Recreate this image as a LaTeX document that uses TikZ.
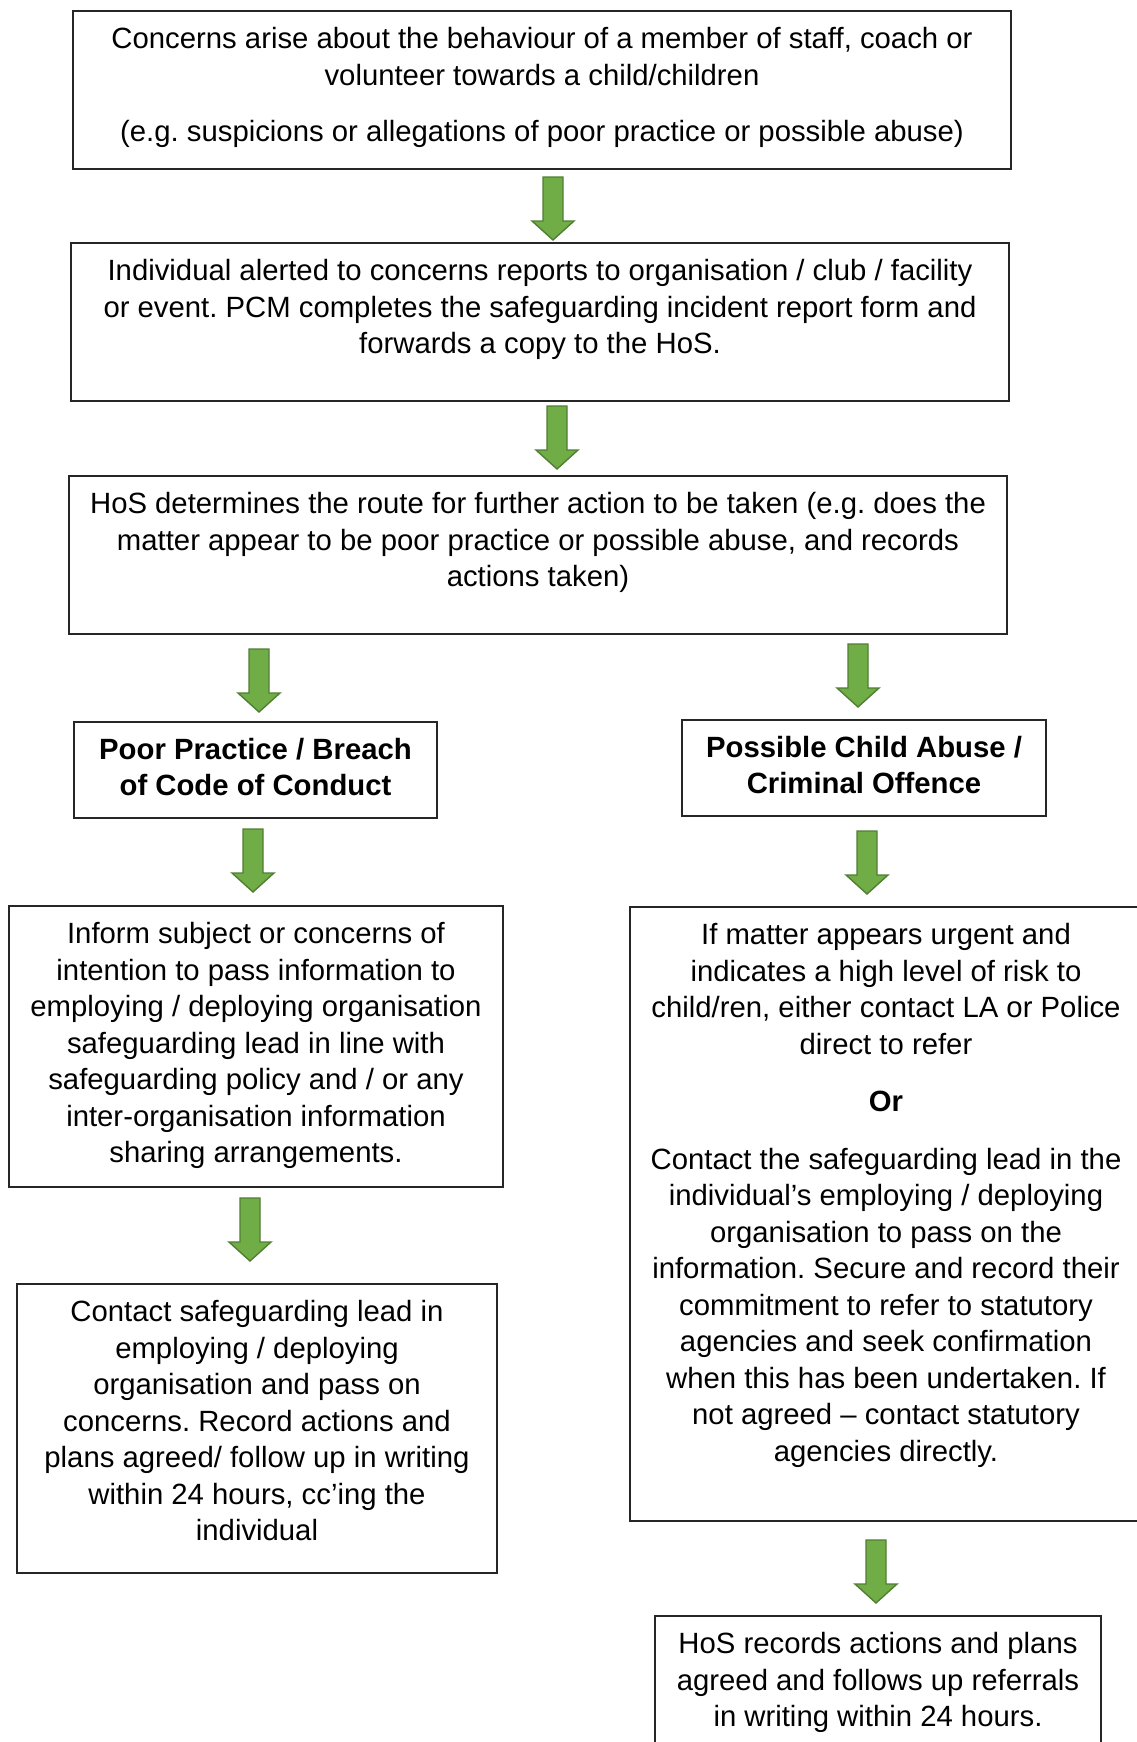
\documentclass[tikz,border=0pt]{standalone}
\usepackage{fontspec}
\setmainfont{Liberation Sans}
\frenchspacing
\definecolor{gfill}{HTML}{70AD47}
\definecolor{gline}{HTML}{507E32}
\tikzset{
  box/.style={draw=black!85, line width=1.3pt, inner sep=0pt, outer sep=0pt, rectangle},
  txt/.style={anchor=north, inner sep=0pt, align=center, font=\fontsize{29.3}{36.5}\selectfont, yshift=1.5pt},
  btxt/.style={txt, font=\fontsize{29.3}{35.6}\selectfont\bfseries},
  garrow/.pic={\draw[fill=gfill, draw=gline, line width=1.4pt, line join=miter]
    (-10,0) -- (10,0) -- (10,44) -- (21,44) -- (0,63) -- (-21,44) -- (-10,44) -- cycle;}
}
\begin{document}
\begin{tikzpicture}[x=1pt,y=-1pt]
\useasboundingbox (0,0) rectangle (1137,1742);
\clip (0,0) rectangle (1137,1742);

% boxes
\node[box, minimum width=938pt, minimum height=158pt] (b1) at (542,90) {};
\node[box, minimum width=938pt, minimum height=158pt] (b2) at (540,322) {};
\node[box, minimum width=938pt, minimum height=158pt] (b3) at (538,555) {};
\node[box, minimum width=363pt, minimum height=96pt] (poor) at (255.5,770) {};
\node[box, minimum width=364pt, minimum height=96pt] (poss) at (864,768) {};
\node[box, minimum width=494pt, minimum height=281pt] (inform) at (256,1046.5) {};
\node[box, minimum width=512pt, minimum height=614pt] (urgent) at (886,1214) {};
\node[box, minimum width=480pt, minimum height=289pt] (contact) at (257,1428.5) {};
\node[box, minimum width=446pt, minimum height=154pt] (hos) at (878,1693) {};

% texts
\node[txt] (b1t) at (542,28.6) {Concerns arise about the behaviour of a member of staff, coach or\\
volunteer towards a child/children\\[20pt]
(e.g. suspicions or allegations of poor practice or possible abuse)};
\node[txt] (b2t) at (540,260.6) {Individual alerted to concerns reports to organisation / club / facility\\
or event. PCM completes the safeguarding incident report form and\\
forwards a copy to the HoS.};
\node[txt] (b3t) at (538,493.6) {HoS determines the route for further action to be taken (e.g. does the\\
matter appear to be poor practice or possible abuse, and records\\
actions taken)};
\node[btxt] (poort) at (255.5,739.6) {Poor Practice / Breach\\of Code of Conduct};
\node[btxt] (posst) at (864,737.6) {Possible Child Abuse /\\Criminal Offence};
\node[txt] (informt) at (256,923.6) {Inform subject or concerns of\\
intention to pass information to\\
employing / deploying organisation\\
safeguarding lead in line with\\
safeguarding policy and / or any\\
inter-organisation information\\
sharing arrangements.};
\node[txt] (urgentt) at (886,924.6) {If matter appears urgent and\\
indicates a high level of risk to\\
child/ren, either contact LA or Police\\
direct to refer\\[21pt]
\textbf{Or}\\[21pt]
Contact the safeguarding lead in the\\
individual’s employing / deploying\\
organisation to pass on the\\
information. Secure and record their\\
commitment to refer to statutory\\
agencies and seek confirmation\\
when this has been undertaken. If\\
not agreed – contact statutory\\
agencies directly.};
\node[txt] (contactt) at (257,1301.6) {Contact safeguarding lead in\\
employing / deploying\\
organisation and pass on\\
concerns. Record actions and\\
plans agreed/ follow up in writing\\
within 24 hours, cc’ing the\\
individual};
\node[txt] (host) at (878,1633.6) {HoS records actions and plans\\
agreed and follows up referrals\\
in writing within 24 hours.};

% block arrows
\pic at (553,177) {garrow};
\pic at (557,406) {garrow};
\pic at (259,649) {garrow};
\pic at (858,644) {garrow};
\pic at (253,829) {garrow};
\pic at (867,831) {garrow};
\pic at (250,1198) {garrow};
\pic at (876,1540) {garrow};
\end{tikzpicture}
\end{document}
